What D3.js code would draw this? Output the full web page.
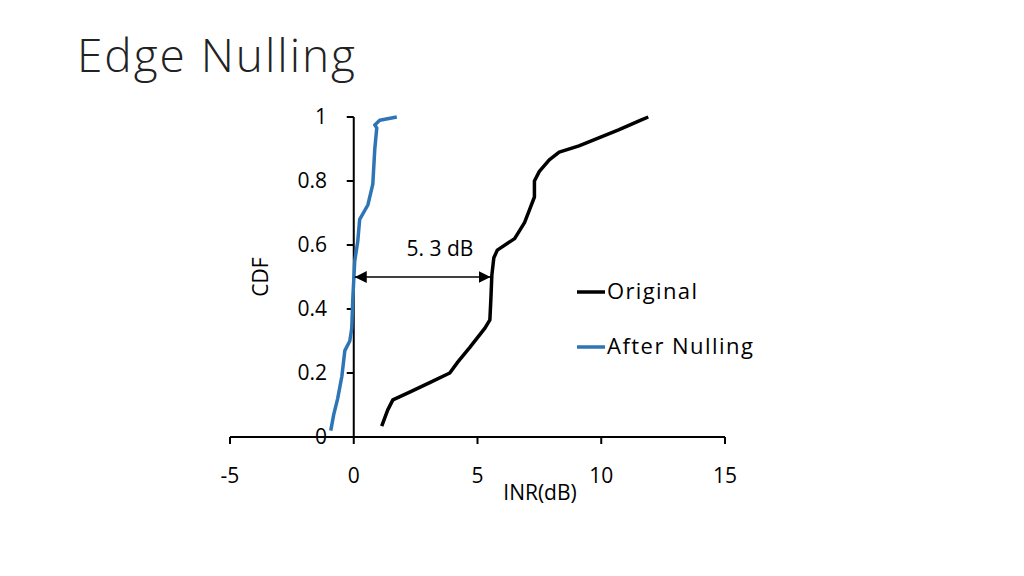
<!DOCTYPE html><html><head><meta charset="utf-8"><script src="https://cdn.jsdelivr.net/npm/d3@7"></script>
<style>body{margin:0;background:#fff}text{font-family:"Open Sans",Lato,sans-serif}</style></head><body>
<svg width="1024" height="576"></svg>
<script>
const xTicks=[-5,0,5,10,15];
const yTicks=[0,0.2,0.4,0.6,0.8,1];
const yTickLabels=["0","0.2","0.4","0.6","0.8","1"];
const originalX=[1.13,1.37,1.58,2.26,3.07,3.88,4.2,4.69,5.3,5.5,5.54,5.58,5.66,5.8,6.5,6.9,7.1,7.3,7.3,7.5,7.9,8.3,9.1,10.7,11.6,11.9];
const originalY=[0.034,0.084,0.116,0.14,0.17,0.2,0.234,0.28,0.34,0.366,0.43,0.506,0.56,0.584,0.62,0.67,0.71,0.75,0.8,0.83,0.866,0.89,0.91,0.96,0.99,1.0];
const nullX=[-0.93,-0.81,-0.65,-0.48,-0.36,-0.16,-0.08,-0.04,0.04,0.16,0.24,0.57,0.77,0.85,0.93,0.85,1.05,1.74];
const nullY=[0.02,0.07,0.12,0.19,0.27,0.30,0.34,0.43,0.55,0.61,0.68,0.725,0.79,0.90,0.966,0.975,0.99,1.0];
const svg=d3.select("svg");
const x=d3.scaleLinear().domain([-5,15]).range([230,725]);
const y=d3.scaleLinear().domain([0,1]).range([437,117]);
svg.append("text").attr("x",77).attr("y",72).attr("font-size",46).attr("font-weight",300).attr("fill","#222").attr("textLength",278).text("Edge Nulling");
svg.append("line").attr("x1",x(-5)).attr("x2",x(15)).attr("y1",y(0)).attr("y2",y(0)).attr("stroke","#000").attr("stroke-width",2);
xTicks.forEach(t=>{
 svg.append("line").attr("x1",x(t)).attr("x2",x(t)).attr("y1",y(0)).attr("y2",y(0)+7).attr("stroke","#000").attr("stroke-width",2);
 svg.append("text").attr("x",x(t)).attr("y",483).attr("text-anchor","middle").attr("font-size",21).text(t);
});
svg.append("line").attr("x1",x(0)).attr("x2",x(0)).attr("y1",y(0)).attr("y2",y(1)).attr("stroke","#000").attr("stroke-width",2);
yTicks.forEach((t,i)=>{
 svg.append("line").attr("x1",x(0)-7).attr("x2",x(0)).attr("y1",y(t)).attr("y2",y(t)).attr("stroke","#000").attr("stroke-width",2);
 svg.append("text").attr("x",327).attr("y",y(t)+7).attr("text-anchor","end").attr("font-size",21).text(yTickLabels[i]);
});
svg.append("text").attr("x",540).attr("y",500).attr("text-anchor","middle").attr("font-size",21).text("INR(dB)");
svg.append("text").attr("transform","translate(268,277) rotate(-90)").attr("text-anchor","middle").attr("font-size",21).text("CDF");
const line=d3.line().x(d=>x(d[0])).y(d=>y(d[1])).curve(d3.curveLinear);
svg.append("path").attr("d",line(originalX.map((v,i)=>[v,originalY[i]]))).attr("fill","none").attr("stroke","#000").attr("stroke-width",3.5).attr("stroke-linejoin","round");
svg.append("path").attr("d",line(nullX.map((v,i)=>[v,nullY[i]]))).attr("fill","none").attr("stroke","#2e75b6").attr("stroke-width",3.5).attr("stroke-linejoin","round");
const defs=svg.append("defs");
defs.append("marker").attr("id","ah").attr("viewBox","0 0 10 10").attr("refX",10).attr("refY",5).attr("markerWidth",8).attr("markerHeight",8).attr("orient","auto-start-reverse").append("path").attr("d","M0,0L10,5L0,10z");
svg.append("line").attr("x1",x(0)+1).attr("x2",x(5.53)).attr("y1",y(0.5)).attr("y2",y(0.5)).attr("stroke","#000").attr("stroke-width",1.5).attr("marker-start","url(#ah)").attr("marker-end","url(#ah)");
svg.append("text").attr("x",440).attr("y",256).attr("text-anchor","middle").attr("font-size",21).text("5. 3 dB");
[["Original","#000",292,90],["After Nulling","#2e75b6",347,146]].forEach(l=>{
 svg.append("line").attr("x1",577).attr("x2",605).attr("y1",l[2]).attr("y2",l[2]).attr("stroke",l[1]).attr("stroke-width",3.5);
 svg.append("text").attr("x",607).attr("y",l[2]+7).attr("font-size",22).attr("textLength",l[3]).text(l[0]);
});
</script></body></html>
